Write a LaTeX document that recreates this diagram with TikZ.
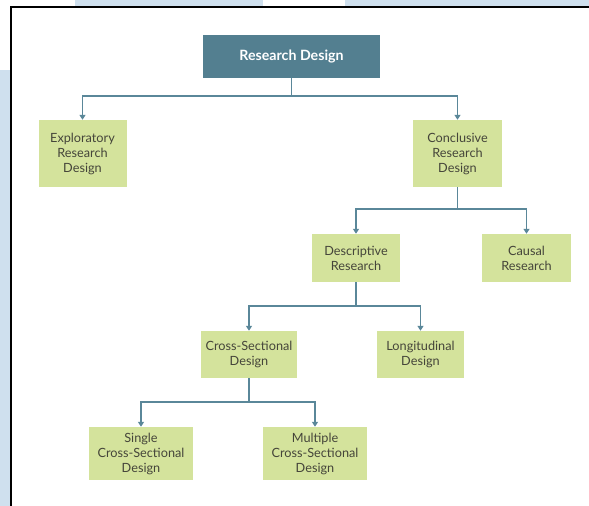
\documentclass[tikz,border=0pt]{standalone}
\usepackage{fontspec}
\setmainfont{Lato}
\usetikzlibrary{arrows.meta}
\definecolor{boxgreen}{HTML}{D4E39C}
\definecolor{teal}{HTML}{537F90}
\definecolor{conn}{HTML}{5A8799}
\definecolor{txt}{HTML}{45453A}
\definecolor{bgblue}{HTML}{CFE0EE}
\begin{document}
\begin{tikzpicture}[x=1pt,y=-1pt,
  gbox/.style={fill=boxgreen,draw=none,align=center,inner sep=0pt,text=txt,
    font=\fontsize{12.7}{15}\selectfont},
  tbox/.style={fill=teal,draw=none,align=center,inner sep=0pt,text=white,
    font=\bfseries\fontsize{14.2}{16}\selectfont},
  cline/.style={draw=conn,line width=1.3pt},
  carrow/.style={cline,-{Triangle[length=5pt,width=6pt]}}]
\useasboundingbox (0,0) rectangle (589,506);
% background fragments
\fill[bgblue] (75,0) rectangle (263,6);
\fill[bgblue] (345,0) rectangle (589,6);
\fill[bgblue] (0,70) rectangle (10,506);
\draw[black,line width=2pt] (11,507) -- (11,7) -- (590,7);
% nodes
\node[tbox,minimum width=177pt,minimum height=43pt] (rd) at (291.5,56.5) {Research Design};
\node[gbox,minimum width=88pt,minimum height=67pt] (exp) at (82.5,153.5) {Exploratory\\Research\\Design};
\node[gbox,minimum width=89pt,minimum height=67pt] (con) at (457.5,153.5) {Conclusive\\Research\\Design};
\node[gbox,minimum width=88pt,minimum height=48pt] (des) at (356,258) {Descriptive\\Research};
\node[gbox,minimum width=89pt,minimum height=48pt] (cau) at (526.5,258) {Causal\\Research};
\node[gbox,minimum width=96pt,minimum height=47pt] (cro) at (249,354.5) {Cross-Sectional\\Design};
\node[gbox,minimum width=87pt,minimum height=47pt] (lon) at (420.5,354.5) {Longitudinal\\Design};
\node[gbox,minimum width=104pt,minimum height=53pt] (sin) at (141,453.5) {Single\\Cross-Sectional\\Design};
\node[gbox,minimum width=104pt,minimum height=53pt] (mul) at (315,453.5) {Multiple\\Cross-Sectional\\Design};
% buses
\coordinate (b1) at (291.5,96);
\coordinate (b2) at (457.5,209);
\coordinate (b3) at (356,306);
\coordinate (b4) at (249,402);
\draw[cline] (rd.south) -- (b1);
\draw[carrow] (b1) -| (exp.north);
\draw[carrow] (b1) -| (con.north);
\draw[cline] (con.south) -- (b2);
\draw[carrow] (b2) -| (des.north);
\draw[carrow] (b2) -| (cau.north);
\draw[cline] (des.south) -- (b3);
\draw[carrow] (b3) -| (cro.north);
\draw[carrow] (b3) -| (lon.north);
\draw[cline] (cro.south) -- (b4);
\draw[carrow] (b4) -| (sin.north);
\draw[carrow] (b4) -| (mul.north);
\end{tikzpicture}
\end{document}
